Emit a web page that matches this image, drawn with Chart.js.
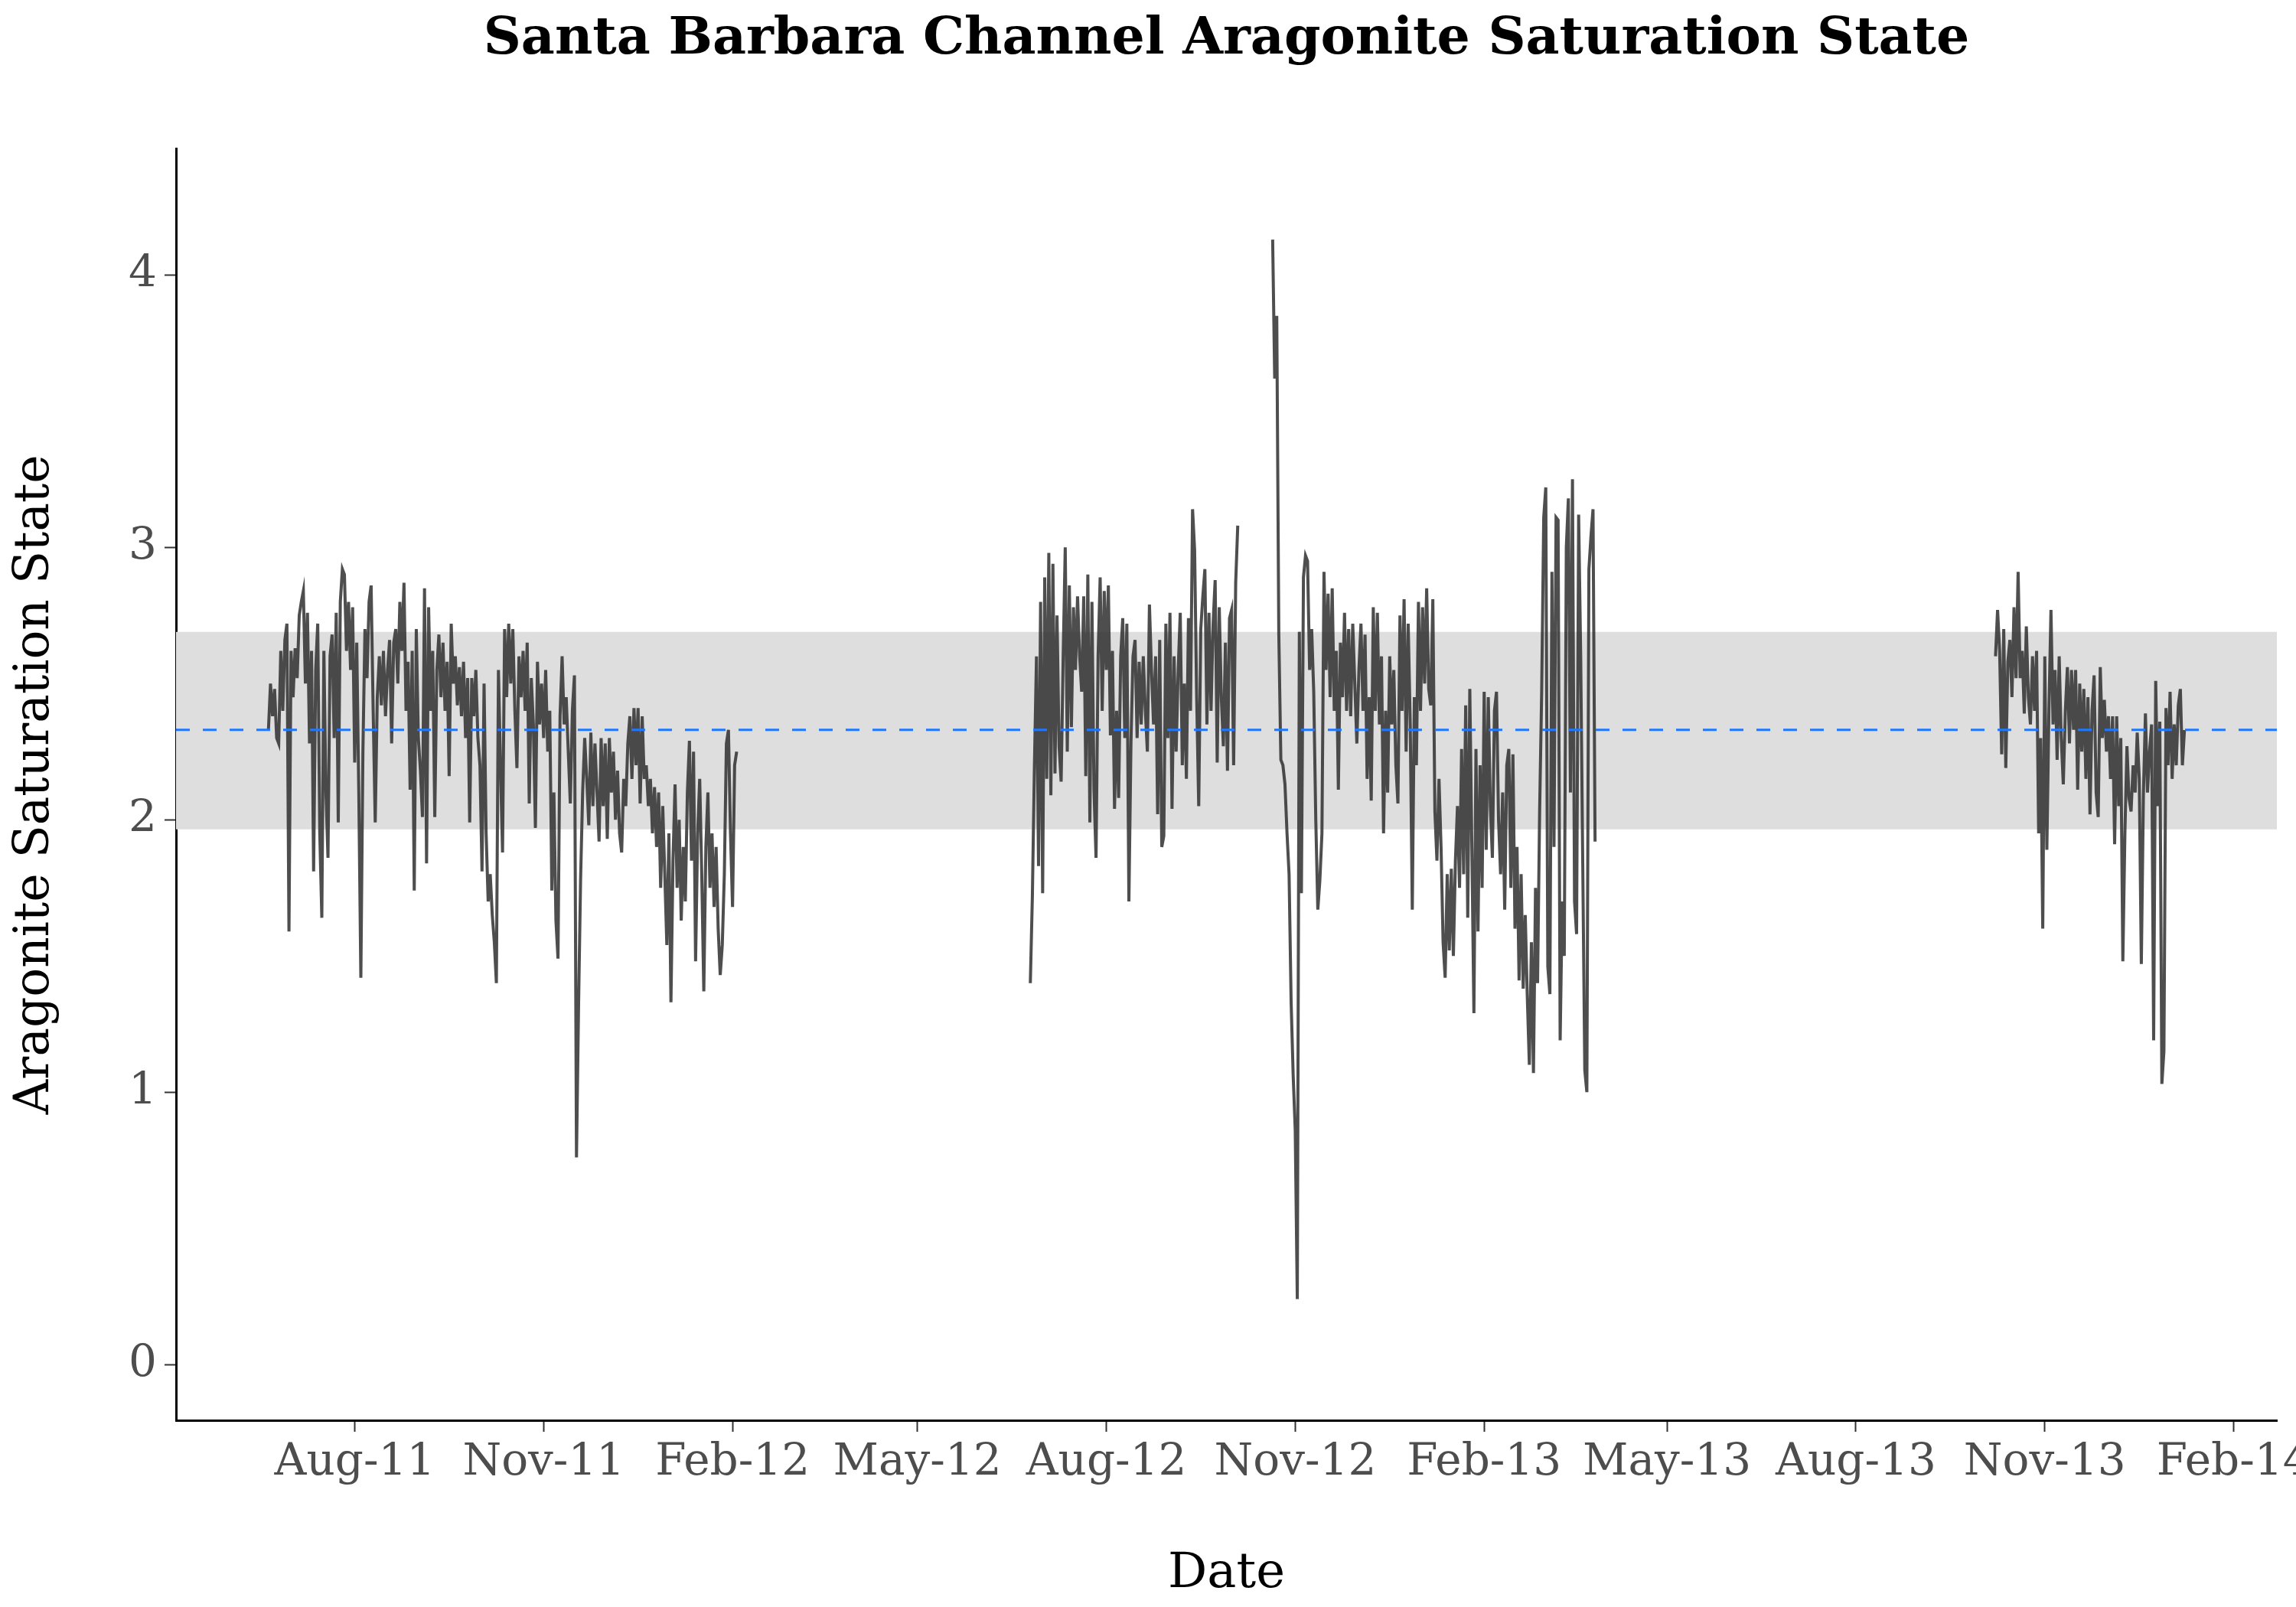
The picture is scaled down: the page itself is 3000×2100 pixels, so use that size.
<!DOCTYPE html>
<html>
<head>
<meta charset="utf-8">
<title>Santa Barbara Channel Aragonite Saturation State</title>
<script src="https://cdn.jsdelivr.net/npm/chart.js@4.4.1/dist/chart.umd.min.js"></script>
<style>
  html, body { margin: 0; padding: 0; background: #ffffff; overflow: hidden; }
  #wrap { width: 3100px; height: 2100px; }
</style>
</head>
<body>
<div id="wrap"><canvas id="omegaChart" width="3100" height="2100"></canvas></div>
<script>
// Daily readings, one array per deployment, each starts on its own date
const seg1Start = '2011-06-20';
const seg1Values = [
  2.33, 2.50, 2.38, 2.48, 2.30, 2.28, 2.62, 2.40, 2.66, 2.72,
  1.59, 2.62, 2.45, 2.63, 2.52, 2.75, 2.80, 2.84, 2.50, 2.76,
  2.28, 2.62, 1.81, 2.55, 2.72, 1.95, 1.64, 2.62, 2.10, 1.86,
  2.60, 2.68, 2.30, 2.76, 1.99, 2.80, 2.92, 2.90, 2.62, 2.80,
  2.55, 2.78, 2.21, 2.65, 2.10, 1.42, 2.25, 2.70, 2.52, 2.80,
  2.86, 2.40, 1.99, 2.45, 2.60, 2.42, 2.62, 2.38, 2.55, 2.66,
  2.28, 2.65, 2.70, 2.50, 2.80, 2.62, 2.87, 2.40, 2.58, 2.11,
  2.62, 1.74, 2.70, 2.30, 2.18, 2.01, 2.85, 1.84, 2.78, 2.40,
  2.62, 2.01, 2.55, 2.68, 2.45, 2.65, 2.40, 2.58, 2.16, 2.72,
  2.50, 2.60, 2.42, 2.56, 2.38, 2.58, 2.30, 2.52, 1.99, 2.52,
  2.38, 2.55, 2.30, 2.20, 1.81, 2.50, 1.95, 1.70, 1.80, 1.65,
  1.55, 1.40, 2.55, 2.20, 1.88, 2.70, 2.45, 2.72, 2.50, 2.70,
  2.40, 2.19, 2.60, 2.45, 2.62, 2.40, 2.65, 2.06, 2.52, 2.35,
  1.97, 2.58, 2.35, 2.50, 2.30, 2.55, 2.25, 2.40, 1.74, 2.10,
  1.63, 1.49, 2.38, 2.60, 2.35, 2.45, 2.25, 2.06, 2.40, 2.53,
  0.76, 1.31, 1.78, 2.10, 2.30, 2.15, 1.98, 2.32, 2.05, 2.28,
  2.10, 1.92, 2.30, 2.05, 2.28, 1.93, 2.30, 2.10, 2.25, 2.00,
  2.18, 1.95, 1.88, 2.15, 2.05, 2.28, 2.38, 2.15, 2.41, 2.20,
  2.41, 2.06, 2.38, 2.15, 2.20, 2.05, 2.15, 1.95, 2.12, 1.90,
  2.10, 1.75, 2.05, 1.80, 1.54, 1.95, 1.33, 1.85, 2.13, 1.75,
  2.00, 1.63, 1.90, 1.70, 2.10, 2.29, 1.85, 2.25, 1.48, 1.95,
  2.15, 1.80, 1.37, 1.90, 2.10, 1.75, 1.95, 1.68, 1.90, 1.60,
  1.43, 1.54, 1.80, 2.28, 2.33, 1.95, 1.68, 2.20, 2.25
];

const seg2Start = '2012-06-25';
const seg2Values = [
  1.40, 1.72, 2.20, 2.60, 1.83, 2.80, 1.73, 2.89, 2.15, 2.98,
  2.09, 2.94, 2.17, 2.75, 2.27, 2.14, 2.60, 3.00, 2.25, 2.86,
  2.34, 2.78, 2.55, 2.82, 2.60, 2.47, 2.82, 2.16, 2.90, 1.99,
  2.80, 2.11, 1.86, 2.60, 2.89, 2.40, 2.84, 2.55, 2.86, 2.31,
  2.62, 2.04, 2.40, 2.08, 2.60, 2.74, 2.30, 2.72, 1.70, 2.28,
  2.60, 2.66, 2.30, 2.58, 2.35, 2.60, 2.40, 2.25, 2.79, 2.55,
  2.35, 2.60, 2.02, 2.66, 1.90, 1.94, 2.72, 2.30, 2.76, 2.04,
  2.60, 2.25, 2.55, 2.76, 2.20, 2.50, 2.15, 2.74, 2.40, 3.14,
  2.99, 2.45, 2.05, 2.70, 2.82, 2.92, 2.35, 2.76, 2.40, 2.72,
  2.88, 2.21, 2.78, 2.45, 2.27, 2.65, 2.18, 2.74, 2.77, 2.20,
  2.87, 3.08
];

const seg3Start = '2012-10-21';
const seg3Values = [
  4.13, 3.62, 3.85, 2.68, 2.22, 2.20, 2.13, 1.95, 1.80, 1.33,
  1.06, 0.86, 0.24, 2.69, 1.73, 2.89, 2.97, 2.95, 2.55, 2.70,
  2.47, 2.00, 1.67, 1.78, 1.95, 2.91, 2.55, 2.83, 2.45, 2.85,
  2.40, 2.62, 2.11, 2.65, 2.45, 2.76, 2.40, 2.70, 2.38, 2.72,
  2.50, 2.28, 2.55, 2.72, 2.40, 2.68, 2.15, 2.45, 2.07, 2.78,
  2.40, 2.76, 2.35, 2.60, 1.95, 2.40, 2.10, 2.60, 2.35, 2.55,
  2.20, 2.06, 2.75, 2.40, 2.81, 2.25, 2.72, 2.35, 1.67, 2.45,
  2.20, 2.80, 2.40, 2.78, 2.50, 2.85, 2.48, 2.42, 2.81, 2.03,
  1.85, 2.15, 1.90, 1.55, 1.42, 1.80, 1.52, 1.82, 1.50, 1.85,
  2.05, 1.75, 2.26, 1.80, 2.42, 1.64, 2.48, 1.90, 1.29, 2.26,
  1.59, 2.20, 1.75, 2.47, 1.89, 2.45, 2.05, 1.86, 2.40, 2.47,
  2.00, 1.80, 2.10, 1.67, 2.20, 2.26, 1.75, 2.24, 1.60, 1.90,
  1.41, 1.80, 1.38, 1.65, 1.35, 1.10, 1.55, 1.07, 1.75, 1.40,
  2.03, 2.47, 3.11, 3.22, 1.46, 1.36, 2.91, 1.90, 3.11, 3.10,
  1.19, 1.70, 1.50, 3.00, 3.18, 2.10, 3.25, 1.70, 1.58, 3.12,
  2.60, 1.84, 1.08, 1.00, 2.92, 3.04, 3.14, 1.92
];

const seg4Start = '2013-10-08';
const seg4Values = [
  2.60, 2.77, 2.62, 2.24, 2.70, 2.19, 2.58, 2.66, 2.45, 2.78,
  2.52, 2.91, 2.52, 2.62, 2.39, 2.71, 2.45, 2.35, 2.60, 2.40,
  2.62, 1.95, 2.30, 1.60, 2.60, 1.89, 2.40, 2.77, 2.35, 2.55,
  2.22, 2.60, 2.30, 2.13, 2.40, 2.56, 2.28, 2.55, 2.33, 2.55,
  2.11, 2.50, 2.25, 2.48, 2.15, 2.45, 2.02, 2.40, 2.53, 2.10,
  2.01, 2.56, 2.30, 2.44, 2.25, 2.38, 2.15, 2.38, 1.91, 2.38,
  2.05, 2.30, 1.48, 1.95, 2.27, 2.08, 2.03, 2.20, 2.10, 2.32,
  2.15, 1.47, 2.09, 2.39, 2.10, 2.25, 2.35, 1.19, 2.51, 2.05,
  2.36, 1.03, 1.15, 2.41, 2.20, 2.47, 2.15, 2.35, 2.20, 2.42,
  2.48, 2.20, 2.33
];

// Reference band and mean line
const bandLow = 1.965;
const bandHigh = 2.69;
const meanLine = 2.33;

// Axis ticks and limits
const xTickDates = ['2011-08-01', '2011-11-01', '2012-02-01', '2012-05-01', '2012-08-01', '2012-11-01',
                    '2013-02-01', '2013-05-01', '2013-08-01', '2013-11-01', '2014-02-01'];
const xTickLabels = ['Aug-11', 'Nov-11', 'Feb-12', 'May-12', 'Aug-12', 'Nov-12',
                     'Feb-13', 'May-13', 'Aug-13', 'Nov-13', 'Feb-14'];
const xLimitDates = ['2011-05-06', '2014-02-22'];
const yTicks = [0, 1, 2, 3, 4];
const yLimits = [-0.205, 4.463];

const originDate = '2011-08-01';
const DAY_MS = 86400000;

function dayNumber(dateStr) {
  const [y, m, d] = dateStr.split('-').map(Number);
  const [oy, om, od] = originDate.split('-').map(Number);
  return (Date.UTC(y, m - 1, d) - Date.UTC(oy, om - 1, od)) / DAY_MS;
}

function toPoints(startDate, values) {
  const start = dayNumber(startDate);
  return values.map((v, i) => ({ x: start + i, y: v }));
}

const xTickVals = xTickDates.map(dayNumber);
const xMin = dayNumber(xLimitDates[0]);
const xMax = dayNumber(xLimitDates[1]);

const serifFont = "'DejaVu Serif', 'Liberation Serif', serif";
const lineColor = 'rgba(44, 44, 44, 0.84)';

function seriesDataset(startDate, values) {
  return {
    type: 'line',
    data: toPoints(startDate, values),
    borderColor: lineColor,
    borderWidth: 4,
    pointRadius: 0,
    tension: 0,
    fill: false,
    order: 2
  };
}

document.addEventListener('DOMContentLoaded', () => {
  const ctx = document.getElementById('omegaChart').getContext('2d');

  new Chart(ctx, {
    type: 'line',
    data: {
      datasets: [
        // shaded band
        {
          data: [{ x: xMin, y: bandHigh }, { x: xMax, y: bandHigh }],
          borderWidth: 0,
          borderColor: 'rgba(0,0,0,0)',
          backgroundColor: '#dedede',
          pointRadius: 0,
          fill: { value: bandLow },
          order: 3
        },
        seriesDataset(seg1Start, seg1Values),
        seriesDataset(seg2Start, seg2Values),
        seriesDataset(seg3Start, seg3Values),
        seriesDataset(seg4Start, seg4Values),
        // mean dashed line
        {
          data: [{ x: xMin, y: meanLine }, { x: xMax, y: meanLine }],
          borderColor: '#1f78ff',
          borderWidth: 3.2,
          borderDash: [18, 17],
          pointRadius: 0,
          fill: false,
          order: 1
        }
      ]
    },
    options: {
      responsive: false,
      devicePixelRatio: 1,
      animation: false,
      layout: { padding: { left: 0, right: 125, top: 0, bottom: 0 } },
      plugins: {
        legend: { display: false },
        tooltip: { enabled: false },
        title: {
          display: true,
          fullSize: false,
          text: 'Santa Barbara Channel Aragonite Saturation State',
          color: '#000000',
          font: { family: serifFont, size: 68, weight: 'bold', lineHeight: 1.2 },
          padding: { top: 12, bottom: 101 }
        }
      },
      scales: {
        x: {
          type: 'linear',
          min: xMin,
          max: xMax,
          afterBuildTicks: scale => {
            scale.ticks = xTickVals.map(v => ({ value: v }));
          },
          afterFit: scale => { scale.height = 244; },
          border: { display: true, color: '#000000', width: 3 },
          grid: { display: true, drawOnChartArea: false, drawTicks: true, tickLength: 15, tickColor: '#333333', tickWidth: 2 },
          ticks: {
            autoSkip: false,
            maxRotation: 0,
            padding: 6,
            color: '#4d4d4d',
            font: { family: serifFont, size: 58 },
            callback: (value, index) => xTickLabels[index]
          },
          title: {
            display: true,
            text: 'Date',
            color: '#000000',
            font: { family: serifFont, size: 64, lineHeight: 1.2 },
            padding: { top: 0, bottom: 4 }
          }
        },
        y: {
          type: 'linear',
          min: yLimits[0],
          max: yLimits[1],
          afterBuildTicks: scale => {
            scale.ticks = yTicks.map(v => ({ value: v }));
          },
          afterFit: scale => { scale.width = 230; },
          border: { display: true, color: '#000000', width: 3 },
          grid: { display: true, drawOnChartArea: false, drawTicks: true, tickLength: 15, tickColor: '#333333', tickWidth: 2 },
          ticks: {
            padding: 10,
            color: '#4d4d4d',
            font: { family: serifFont, size: 58 },
            callback: value => String(value)
          },
          title: {
            display: true,
            text: 'Aragonite Saturation State',
            color: '#000000',
            font: { family: serifFont, size: 63, lineHeight: 1.2 },
            padding: { top: 9, bottom: 0 }
          }
        }
      }
    }
  });
});
</script>
</body>
</html>
